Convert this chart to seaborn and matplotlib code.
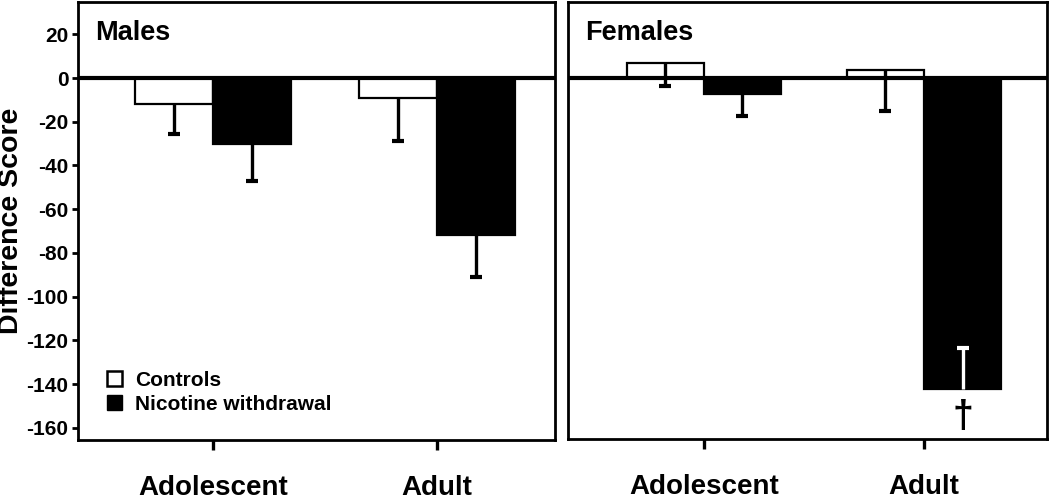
import pandas as pd
import numpy as np
import matplotlib
matplotlib.use("Agg")
import matplotlib.pyplot as plt
import seaborn as sns
from matplotlib.patches import Patch

# values (difference scores, signed error = direction of the bar)
ages = ["Adolescent", "Adult"]
groups = ["Controls", "Nicotine withdrawal"]

males_controls = [-12, -9]
males_controls_err = [-13.5, -20]
males_nicotine = [-30, -72]
males_nicotine_err = [-17, -19]

females_controls = [6.9, 3.8]
females_controls_err = [-10.5, -19]
females_nicotine = [-7.5, -142.7]
females_nicotine_err = [-10, 19]
females_marks = ["", "", "", "\u2020"]

yticks = [20, 0, -20, -40, -60, -80, -100, -120, -140, -160]


def make_df(ctrl, ctrl_err, nic, nic_err):
    rows = []
    for a, v, e in zip(ages, ctrl, ctrl_err):
        rows.append({"age": a, "group": groups[0], "value": v, "err": e})
    for a, v, e in zip(ages, nic, nic_err):
        rows.append({"age": a, "group": groups[1], "value": v, "err": e})
    return pd.DataFrame(rows)


df_m = make_df(males_controls, males_controls_err, males_nicotine, males_nicotine_err)
df_f = make_df(females_controls, females_controls_err, females_nicotine, females_nicotine_err)

sns.set_theme(style="white")
plt.rcParams["font.family"] = ["Liberation Sans", "DejaVu Sans"]
plt.rcParams["axes.unicode_minus"] = False
plt.rcParams["text.color"] = "black"
plt.rcParams["axes.labelcolor"] = "black"
plt.rcParams["xtick.color"] = "black"
plt.rcParams["ytick.color"] = "black"

fig = plt.figure(figsize=(10.5, 4.99), dpi=100)
W, H = 1050, 499
ax_m = fig.add_axes([78 / W, (H - 440) / H, (555 - 78) / W, (440 - 2) / H])
ax_f = fig.add_axes([568 / W, (H - 439) / H, (1047 - 568) / W, (439 - 2) / H])

palette = {"Controls": "white", "Nicotine withdrawal": "black"}


def draw_panel(ax, df, title, marks=None):
    sns.barplot(data=df, x="age", y="value", hue="group", order=ages, hue_order=groups,
                palette=palette, saturation=1, edgecolor="black", linewidth=1.6,
                width=0.70, errorbar=None, legend=False, ax=ax, zorder=2)
    ax.axhline(0, color="black", lw=3, zorder=3)
    k = 0
    for container, grp in zip(ax.containers, groups):
        sub = df[df["group"] == grp].set_index("age")
        for patch, age in zip(container, ages):
            x = patch.get_x() + patch.get_width() / 2
            v = sub.loc[age, "value"]
            e = sub.loc[age, "err"]
            inside = (np.sign(e) != np.sign(v))
            c = "white" if (inside and palette[grp] == "black") else "black"
            ax.plot([x, x], [v, v + e], color=c, lw=2.4, zorder=4, solid_capstyle="butt")
            ax.plot([x], [v + e], marker="_", markersize=8, mew=3, color=c, zorder=4)
            if marks is not None and marks[k]:
                ax.annotate(marks[k], xy=(x, v), xytext=(0, -7), textcoords="offset points",
                            ha="center", va="top", fontsize=27, fontweight="bold", zorder=5)
            k += 1
    ax.set_ylim(-165.6, 34.8)
    ax.set_xlabel("")
    ax.set_ylabel("")
    for s in ax.spines.values():
        s.set_visible(True)
        s.set_color("black")
        s.set_linewidth(2)
    ax.tick_params(axis="x", bottom=True, length=7, width=2.4, pad=18,
                   labelsize=20, color="black")
    for lab in ax.get_xticklabels():
        lab.set_fontweight("bold")
    ax.text(0.035, 0.93, title, transform=ax.transAxes, fontsize=19.5,
            fontweight="bold", va="center", ha="left")


draw_panel(ax_m, df_m, "Males")
draw_panel(ax_f, df_f, "Females", marks=females_marks)

ax_m.set_xlim(-0.603, 1.527)
ax_f.set_xlim(-0.618, 1.559)

ax_m.set_yticks(yticks)
ax_m.set_yticklabels([str(t) for t in yticks], fontweight="bold", fontsize=15)
ax_m.tick_params(axis="y", left=True, length=4, width=2, pad=3, color="black")
ax_f.set_yticks([])

ax_m.set_ylabel("Difference Score", fontsize=20.5, fontweight="bold")
ax_m.yaxis.set_label_coords(-0.113, 0.5)

handles = [Patch(facecolor="white", edgecolor="black", linewidth=1.8, label=groups[0]),
           Patch(facecolor="black", edgecolor="black", label=groups[1])]
leg = ax_m.legend(handles=handles, loc="lower left", bbox_to_anchor=(0.06, 0.06),
                  frameon=False, fontsize=15, handlelength=0.75, handleheight=0.75,
                  handletextpad=0.6, labelspacing=0.25, borderpad=0, borderaxespad=0)
for t in leg.get_texts():
    t.set_fontweight("bold")

fig.savefig("out.png", dpi=100)
